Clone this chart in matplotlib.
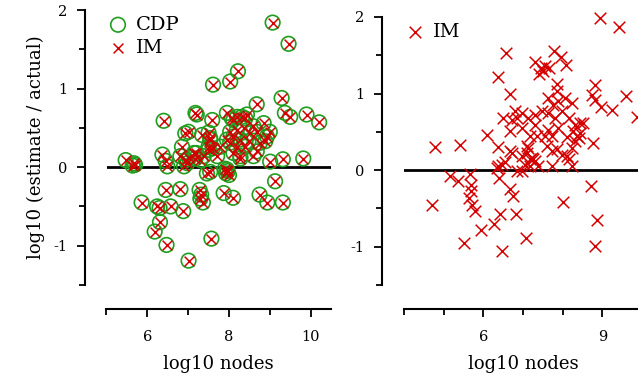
import matplotlib
matplotlib.use("Agg")
from matplotlib import pyplot as plt
from matplotlib.ticker import MultipleLocator, FixedLocator

plt.rcParams['font.family'] = 'DejaVu Serif'
plt.rcParams['axes.unicode_minus'] = False

# left panel: log10 nodes vs log10(estimate/actual), same networks for CDP and IM
left_nodes = [9.07, 9.46, 8.22, 7.61, 8.03, 9.29, 8.68, 9.37, 9.50, 9.90, 10.21,
              6.40, 7.18, 7.21, 7.59, 7.95, 8.07, 8.20, 8.40, 7.01, 6.93, 7.50,
              7.54, 7.50, 7.60, 6.85, 6.37, 6.45, 5.47, 5.67, 5.64, 5.70, 6.49,
              6.90, 6.95, 7.02, 7.18, 7.20, 7.54, 7.95, 7.93, 7.97, 8.00, 7.90,
              8.28, 9.01, 9.32, 9.82, 9.13, 6.45, 6.81, 7.28, 7.32, 7.30, 7.36,
              7.87, 8.10, 8.75, 8.94, 9.32, 5.86, 6.24, 6.30, 6.57, 6.88, 6.31,
              6.18, 6.47, 7.57, 7.01,
              8.11, 8.32, 8.44, 8.60, 8.85, 9.00, 8.93, 8.76, 8.89, 8.68, 8.60,
              8.28, 8.40, 8.48, 8.28, 8.11, 8.03, 8.19, 8.52, 8.68, 8.36, 8.19,
              8.03, 7.95, 7.79, 7.71, 8.11,
              6.81, 6.98, 7.14, 7.30, 7.38, 7.50, 7.54, 7.34, 7.46]
cdp_err = [1.84, 1.57, 1.22, 1.05, 1.09, 0.88, 0.80, 0.69, 0.64, 0.67, 0.57,
           0.59, 0.69, 0.67, 0.60, 0.69, 0.62, 0.64, 0.62, 0.45, 0.43, 0.44,
           0.35, 0.26, 0.24, 0.26, 0.16, 0.08, 0.09, 0.05, 0.02, 0.03, 0.01,
           0.01, 0.09, 0.12, 0.11, 0.18, -0.06, -0.03, -0.08, -0.05, -0.10, -0.02,
           0.11, 0.07, 0.10, 0.11, -0.18, -0.29, -0.28, -0.29, -0.35, -0.40, -0.45,
           -0.33, -0.39, -0.35, -0.45, -0.45, -0.45, -0.50, -0.52, -0.50, -0.56, -0.70,
           -0.82, -0.99, -0.91, -1.19,
           0.60, 0.64, 0.67, 0.52, 0.56, 0.45, 0.39, 0.31, 0.33, 0.20, 0.14,
           0.14, 0.26, 0.33, 0.35, 0.39, 0.31, 0.26, 0.43, 0.45, 0.50, 0.47,
           0.45, 0.35, 0.26, 0.14, 0.18,
           0.14, 0.05, 0.18, 0.09, 0.14, 0.22, 0.37, 0.41, -0.08]
im_err_left = list(cdp_err)

# right panel: IM on a larger set of networks
right_nodes = [8.94, 9.43, 6.57, 6.38, 6.66, 7.78, 7.95, 8.08, 7.30, 7.46, 7.56,
               7.65, 7.41, 7.50, 7.85, 7.85, 8.82, 8.73, 8.82, 8.97, 9.24, 9.60,
               9.87, 7.64, 7.76, 7.89, 8.06, 8.23, 7.98, 8.15, 8.31, 8.44, 8.52,
               6.97, 7.13, 7.30, 7.47, 7.64, 7.81, 7.30, 7.64, 7.89, 8.27, 8.35,
               8.10, 8.44, 7.35, 6.97, 6.50, 6.72, 6.80, 6.84, 6.68, 6.09,
               4.78, 5.40, 6.38, 6.68, 6.72, 6.38, 6.34, 6.46, 6.55, 6.40, 6.84,
               5.16, 5.37, 5.66, 5.69, 5.69, 5.64, 5.71, 5.78,
               6.68, 6.76, 4.70, 6.42, 6.82, 6.28, 5.94, 5.52, 6.46,
               8.76, 8.72, 8.00, 8.86, 8.82, 7.08,
               7.13, 7.22, 7.05, 7.18, 7.30, 6.97,
               7.72, 7.85, 7.98, 8.10, 8.15, 8.23, 8.31, 8.40, 7.72, 8.23,
               7.18, 7.56, 7.74,
               6.97, 7.09, 7.18, 7.26, 7.09, 7.39, 7.60]
im_err_right = [1.99, 1.87, 1.53, 1.21, 0.99, 1.56, 1.48, 1.37, 1.41, 1.34, 1.36,
                1.34, 1.26, 1.30, 1.12, 1.03, 1.11, 0.98, 0.92, 0.82, 0.78, 0.97,
                0.70, 0.94, 0.85, 0.90, 0.94, 0.88, 0.77, 0.68, 0.59, 0.62, 0.62,
                0.75, 0.68, 0.72, 0.77, 0.75, 0.68, 0.59, 0.53, 0.55, 0.51, 0.44,
                0.43, 0.49, 0.44, 0.55, 0.68, 0.66, 0.77, 0.68, 0.51, 0.46,
                0.30, 0.33, 0.30, 0.25, 0.22, 0.05, 0.03, 0.07, 0.10, -0.10, -0.01,
                -0.08, -0.14, -0.05, -0.19, -0.27, -0.37, -0.45, -0.53,
                -0.25, -0.34, -0.45, -0.57, -0.57, -0.70, -0.78, -0.95, -1.06,
                0.36, -0.21, -0.42, -0.65, -0.99, -0.89,
                0.29, 0.16, 0.07, 0.05, 0.12, -0.01,
                0.25, 0.27, 0.20, 0.18, 0.14, 0.29, 0.38, 0.42, 0.05, 0.05,
                0.44, 0.45, 0.45,
                0.18, 0.23, 0.14, 0.14, 0.31, 0.05, 0.31]

green = '#1f9e1f'
red = '#d40000'

fig = plt.figure(figsize=(6.38, 3.81), dpi=100)
ax1 = fig.add_axes([106.5 / 638, 96 / 381, 224.5 / 638, 275 / 381])
ax2 = fig.add_axes([404 / 638, 96 / 381, 238 / 638, 268 / 381])


def style(ax):
    for s in ['top', 'right']:
        ax.spines[s].set_visible(False)
    ax.spines['left'].set_position(('outward', 15.5))
    ax.spines['bottom'].set_position(('outward', 17.3))
    for s in ['left', 'bottom']:
        ax.spines[s].set_linewidth(1.5)
    ax.set_ylim(-1.5, 2)
    ax.yaxis.set_major_locator(FixedLocator([-1, 0, 1, 2]))
    ax.yaxis.set_minor_locator(FixedLocator([-1.5, -0.5, 0.5, 1.5]))
    ax.tick_params(which='major', length=6, width=1.3, labelsize=10.5)
    ax.tick_params(which='minor', length=4, width=1.3)
    ax.tick_params(axis='y', pad=7)
    ax.tick_params(axis='x', pad=9)
    ax.axhline(0, color='black', lw=2, zorder=1)
    ax.set_xlabel('log10 nodes', fontsize=13, labelpad=8)


leg_kw = dict(loc='upper left', frameon=False, fontsize=14, handlelength=0.8,
              handletextpad=0.5, borderaxespad=0, labelspacing=0.25)

ax1.scatter(left_nodes, cdp_err, s=110, facecolors='none', edgecolors=green,
            linewidths=1.2, label='CDP', zorder=2)
ax1.scatter(left_nodes, im_err_left, s=50, marker='x', color=red,
            linewidths=1.1, label='IM', zorder=3)
style(ax1)
ax1.set_xlim(5, 10.5)
ax1.xaxis.set_major_locator(MultipleLocator(2))
ax1.xaxis.set_minor_locator(FixedLocator([5, 7, 9]))
ax1.set_ylabel('log10 (estimate / actual)', fontsize=13, labelpad=6)
ax1.legend(bbox_to_anchor=(-0.018, 1.007), **leg_kw)

ax2.scatter(right_nodes, im_err_right, s=70, marker='x', color=red,
            linewidths=1.1, label='IM', zorder=3, clip_on=False)
style(ax2)
ax2.set_xlim(4, 10)
ax2.xaxis.set_major_locator(FixedLocator([6, 9]))
ax2.xaxis.set_minor_locator(FixedLocator([4, 5, 7, 8, 10]))
ax2.legend(bbox_to_anchor=(-0.019, 1.008), **leg_kw)

fig.savefig('out.png', dpi=100)
